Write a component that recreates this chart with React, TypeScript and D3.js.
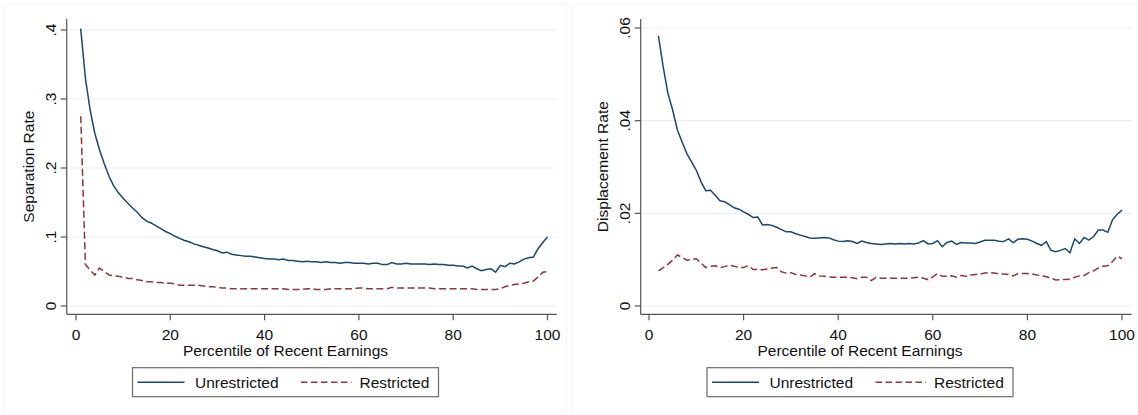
import React from "react";
import * as d3 from "d3";

// Percentile of recent earnings (1..100)
const percentiles: number[] = d3.range(1, 101);

// Separation rate by percentile, p = 1..100
const separationUnrestricted: number[] = [
  0.402, 0.330, 0.284, 0.250, 0.226, 0.206, 0.188, 0.174, 0.164, 0.156,
  0.149, 0.142, 0.136, 0.128, 0.123, 0.120, 0.116, 0.112, 0.108, 0.105,
  0.101, 0.098, 0.095, 0.093, 0.090, 0.088, 0.086, 0.084, 0.082, 0.080,
  0.077, 0.078, 0.075, 0.074, 0.073, 0.072, 0.072, 0.071, 0.070, 0.069,
  0.068, 0.068, 0.067, 0.068, 0.066, 0.066, 0.065, 0.064, 0.065, 0.064,
  0.064, 0.063, 0.064, 0.063, 0.063, 0.062, 0.063, 0.063, 0.062, 0.062,
  0.062, 0.061, 0.062, 0.062, 0.060, 0.060, 0.063, 0.061, 0.061, 0.062,
  0.061, 0.061, 0.061, 0.061, 0.060, 0.061, 0.060, 0.060, 0.059, 0.059,
  0.058, 0.058, 0.055, 0.058, 0.054, 0.051, 0.053, 0.054, 0.049, 0.059,
  0.057, 0.062, 0.061, 0.064, 0.068, 0.070, 0.071, 0.083, 0.092, 0.100,
];

const separationRestricted: number[] = [
  0.275, 0.060, 0.052, 0.045, 0.055, 0.050, 0.045, 0.044, 0.043, 0.042,
  0.040, 0.040, 0.038, 0.037, 0.035, 0.035, 0.034, 0.034, 0.033, 0.033,
  0.032, 0.030, 0.030, 0.030, 0.030, 0.030, 0.029, 0.028, 0.028, 0.027,
  0.026, 0.026, 0.025, 0.025, 0.025, 0.025, 0.025, 0.025, 0.025, 0.025,
  0.025, 0.025, 0.025, 0.025, 0.024, 0.024, 0.024, 0.024, 0.025, 0.025,
  0.024, 0.024, 0.024, 0.025, 0.025, 0.025, 0.025, 0.025, 0.025, 0.026,
  0.026, 0.025, 0.025, 0.025, 0.025, 0.025, 0.027, 0.026, 0.026, 0.026,
  0.026, 0.026, 0.026, 0.026, 0.026, 0.025, 0.025, 0.025, 0.025, 0.025,
  0.025, 0.025, 0.025, 0.025, 0.024, 0.024, 0.024, 0.024, 0.024, 0.025,
  0.028, 0.030, 0.031, 0.032, 0.033, 0.035, 0.036, 0.042, 0.049, 0.050,
];

// Displacement rate by percentile, p = 2..100
const displacementPercentiles: number[] = d3.range(2, 101);

const displacementUnrestricted: number[] = [
  0.0583, 0.0516, 0.0459, 0.0423, 0.0380, 0.0354, 0.0329, 0.0311, 0.0293,
  0.0268, 0.0249, 0.0250, 0.0239, 0.0227, 0.0225, 0.0219, 0.0212, 0.0209, 0.0203,
  0.0198, 0.0191, 0.0192, 0.0175, 0.0176, 0.0174, 0.0170, 0.0165, 0.0160, 0.0160,
  0.0156, 0.0153, 0.0150, 0.0147, 0.0146, 0.0147, 0.0148, 0.0147, 0.0143, 0.0140,
  0.0139, 0.0141, 0.0139, 0.0135, 0.0140, 0.0137, 0.0135, 0.0134, 0.0133, 0.0134,
  0.0135, 0.0134, 0.0135, 0.0134, 0.0135, 0.0134, 0.0136, 0.0141, 0.0134, 0.0135,
  0.0141, 0.0128, 0.0137, 0.0140, 0.0133, 0.0137, 0.0136, 0.0136, 0.0135, 0.0138,
  0.0142, 0.0142, 0.0142, 0.0140, 0.0139, 0.0145, 0.0137, 0.0144, 0.0145, 0.0144,
  0.0140, 0.0135, 0.0131, 0.0139, 0.0120, 0.0117, 0.0120, 0.0124, 0.0115, 0.0145,
  0.0135, 0.0148, 0.0142, 0.0150, 0.0164, 0.0164, 0.0159, 0.0186, 0.0198, 0.0207,
];

const displacementRestricted: number[] = [
  0.0076, 0.0083, 0.0090, 0.0099, 0.0110, 0.0105, 0.0099, 0.0100, 0.0102,
  0.0093, 0.0083, 0.0086, 0.0087, 0.0083, 0.0085, 0.0088, 0.0086, 0.0083, 0.0083,
  0.0087, 0.0079, 0.0079, 0.0078, 0.0080, 0.0082, 0.0083, 0.0074, 0.0071, 0.0072,
  0.0068, 0.0067, 0.0065, 0.0062, 0.0070, 0.0065, 0.0064, 0.0063, 0.0062, 0.0062,
  0.0062, 0.0062, 0.0061, 0.0059, 0.0062, 0.0062, 0.0055, 0.0062, 0.0060, 0.0060,
  0.0060, 0.0060, 0.0060, 0.0060, 0.0060, 0.0061, 0.0062, 0.0060, 0.0057, 0.0063,
  0.0070, 0.0064, 0.0064, 0.0065, 0.0062, 0.0066, 0.0064, 0.0067, 0.0068, 0.0069,
  0.0071, 0.0072, 0.0071, 0.0069, 0.0069, 0.0068, 0.0065, 0.0070, 0.0070, 0.0070,
  0.0069, 0.0067, 0.0066, 0.0063, 0.0060, 0.0056, 0.0057, 0.0057, 0.0058, 0.0062,
  0.0065, 0.0066, 0.0072, 0.0076, 0.0082, 0.0086, 0.0087, 0.0096, 0.0108, 0.0102,
];

const xTicks: number[] = [0, 20, 40, 60, 80, 100];
const separationTicks: number[] = [0, 0.1, 0.2, 0.3, 0.4];
const separationTickLabels: string[] = ["0", ".1", ".2", ".3", ".4"];
const displacementTicks: number[] = [0, 0.02, 0.04, 0.06];
const displacementTickLabels: string[] = ["0", ".02", ".04", ".06"];

const xTitle = "Percentile of Recent Earnings";
const legendLabels: string[] = ["Unrestricted", "Restricted"];

const BLUE = "#1a476f";
const RED = "#90353b";
const GRID = "#e6eff1";
const AXIS = "#555";
const TEXT = "#111";
const FONT = "'Liberation Sans', Arial, Helvetica, sans-serif";
const FS = 15.5;
const DASH = "7 3.5";

type PanelProps = {
  left: number; // panel frame left
  width: number; // panel frame width
  axisX: number; // y-axis position
  plotRight: number; // end of gridlines / x axis
  xRange: [number, number];
  yTop: number; // pixel for max tick
  yMax: number;
  yTicks: number[];
  yTickLabels: string[];
  yTitle: string;
  xs: number[];
  unrestricted: number[];
  restricted: number[];
};

function Panel(p: PanelProps) {
  const zeroY = 306;
  const axisY = 314.3;
  const plotTop = 19;
  const x = d3.scaleLinear().domain([0, 100]).range(p.xRange);
  const y = d3.scaleLinear().domain([0, p.yMax]).range([zeroY, p.yTop]);
  const line = d3
    .line<number>()
    .x((_, i) => x(p.xs[i]))
    .y((d) => y(d));
  const center = p.left + p.width / 2;
  const legendW = 306;
  const legendX = center - legendW / 2;
  const legendY = 367.7;
  const legendH = 29;
  const legendMid = legendY + legendH / 2;
  const plotMid = (plotTop + axisY) / 2;

  return (
    <g>
      <rect
        x={p.left}
        y={4.5}
        width={p.width}
        height={408.5}
        fill="#fff"
        stroke="#f3f5f5"
        strokeWidth={1}
      />
      {/* horizontal gridlines */}
      {p.yTicks.map((t) => (
        <line
          key={"g" + t}
          x1={p.axisX}
          x2={p.plotRight}
          y1={y(t)}
          y2={y(t)}
          stroke={GRID}
          strokeWidth={1.2}
        />
      ))}
      {/* axes */}
      <line x1={p.axisX} x2={p.axisX} y1={plotTop} y2={axisY} stroke={AXIS} strokeWidth={1.2} />
      <line x1={p.axisX} x2={p.plotRight} y1={axisY} y2={axisY} stroke={AXIS} strokeWidth={1.2} />
      {p.yTicks.map((t, i) => (
        <g key={"yt" + t}>
          <line x1={p.axisX - 6} x2={p.axisX} y1={y(t)} y2={y(t)} stroke={AXIS} strokeWidth={1.2} />
          <text
            x={p.axisX - 11}
            y={y(t)}
            transform={`rotate(-90, ${p.axisX - 11}, ${y(t)})`}
            textAnchor="middle"
            fontFamily={FONT}
            fontSize={FS}
            fill={TEXT}
          >
            {p.yTickLabels[i]}
          </text>
        </g>
      ))}
      {xTicks.map((t) => (
        <g key={"xt" + t}>
          <line x1={x(t)} x2={x(t)} y1={axisY} y2={axisY + 6} stroke={AXIS} strokeWidth={1.2} />
          <text
            x={x(t)}
            y={339.5}
            textAnchor="middle"
            fontFamily={FONT}
            fontSize={FS}
            fill={TEXT}
          >
            {t}
          </text>
        </g>
      ))}
      <text
        x={p.axisX - 32.5}
        y={plotMid}
        transform={`rotate(-90, ${p.axisX - 32.5}, ${plotMid})`}
        textAnchor="middle"
        fontFamily={FONT}
        fontSize={FS}
        fill={TEXT}
      >
        {p.yTitle}
      </text>
      <text x={center} y={356} textAnchor="middle" fontFamily={FONT} fontSize={FS} fill={TEXT}>
        {xTitle}
      </text>

      {/* series */}
      <path d={line(p.restricted) ?? ""} fill="none" stroke={RED} strokeWidth={1.5} strokeDasharray={DASH} />
      <path d={line(p.unrestricted) ?? ""} fill="none" stroke={BLUE} strokeWidth={1.5} />

      {/* legend */}
      <rect
        x={legendX}
        y={legendY}
        width={legendW}
        height={legendH}
        fill="#fff"
        stroke="#6b6b6b"
        strokeWidth={1.2}
      />
      <line x1={legendX + 5} x2={legendX + 52} y1={legendMid} y2={legendMid} stroke={BLUE} strokeWidth={1.5} />
      <text x={legendX + 62.5} y={legendMid + 5.5} fontFamily={FONT} fontSize={FS} fill={TEXT}>
        {legendLabels[0]}
      </text>
      <line
        x1={legendX + 168.5}
        x2={legendX + 219}
        y1={legendMid}
        y2={legendMid}
        stroke={RED}
        strokeWidth={1.5}
        strokeDasharray="6.5 3.5"
      />
      <text x={legendX + 227} y={legendMid + 5.5} fontFamily={FONT} fontSize={FS} fill={TEXT}>
        {legendLabels[1]}
      </text>
    </g>
  );
}

export default function App() {
  return (
    <div style={{ position: "absolute", left: 0, top: 0 }}>
      <svg width={1138} height={415} style={{ display: "block", background: "#fff" }}>
        <Panel
          left={4.5}
          width={562}
          axisX={66.7}
          plotRight={556.7}
          xRange={[76, 547.5]}
          yTop={30}
          yMax={0.4}
          yTicks={separationTicks}
          yTickLabels={separationTickLabels}
          yTitle="Separation Rate"
          xs={percentiles}
          unrestricted={separationUnrestricted}
          restricted={separationRestricted}
        />
        <Panel
          left={572.5}
          width={575}
          axisX={640.7}
          plotRight={1131.7}
          xRange={[649, 1122]}
          yTop={28}
          yMax={0.06}
          yTicks={displacementTicks}
          yTickLabels={displacementTickLabels}
          yTitle="Displacement Rate"
          xs={displacementPercentiles}
          unrestricted={displacementUnrestricted}
          restricted={displacementRestricted}
        />
      </svg>
    </div>
  );
}
